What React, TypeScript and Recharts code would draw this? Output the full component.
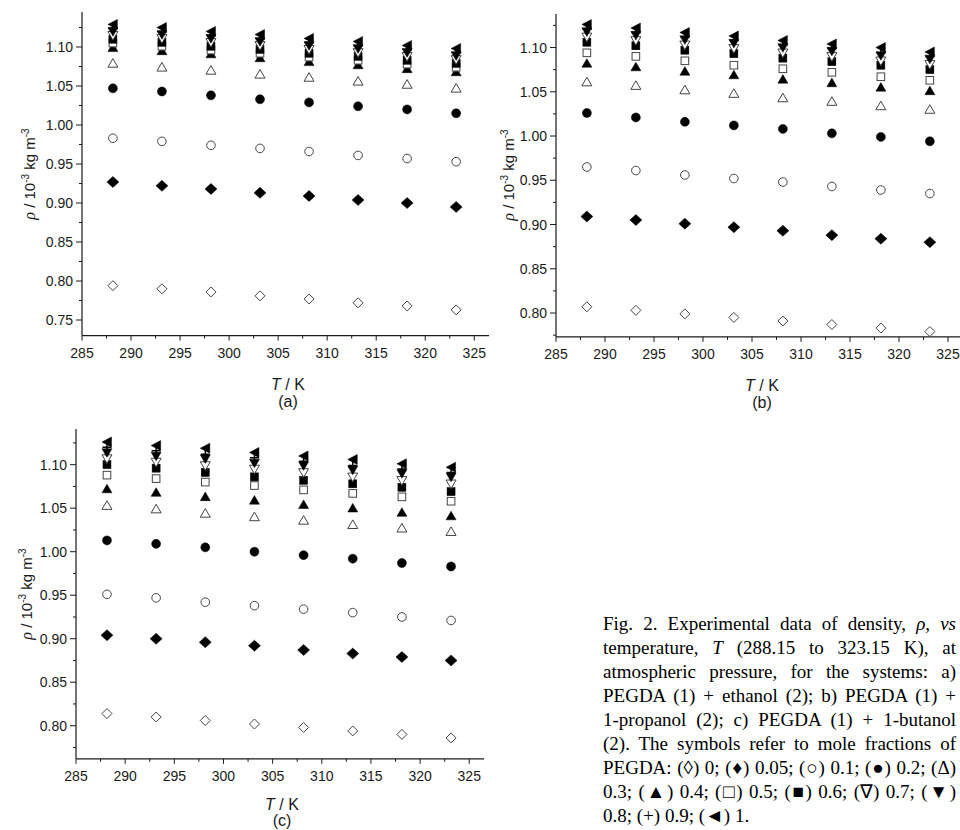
import React from "react";
import { ScatterChart, Scatter, XAxis, YAxis } from "recharts";

// temperatures (K) and PEGDA mole fractions
const temps = [288.15, 293.15, 298.15, 303.15, 308.15, 313.15, 318.15, 323.15];
const moleFractions = ["0", "0.05", "0.1", "0.2", "0.3", "0.4", "0.5", "0.6", "0.7", "0.8", "0.9", "1"];
const markerKinds = [
    "diamondOpen", "diamond", "circleOpen", "circle", "upOpen", "up",
    "squareOpen", "square", "downOpen", "down", "plus", "left",
];

// (a) PEGDA + ethanol, one row per mole fraction
const rhoEthanol = [
    [0.794, 0.790, 0.786, 0.781, 0.777, 0.772, 0.768, 0.763],
    [0.927, 0.922, 0.918, 0.913, 0.909, 0.904, 0.900, 0.895],
    [0.983, 0.979, 0.974, 0.970, 0.966, 0.961, 0.957, 0.953],
    [1.047, 1.043, 1.038, 1.033, 1.029, 1.024, 1.020, 1.015],
    [1.079, 1.074, 1.070, 1.065, 1.061, 1.056, 1.052, 1.047],
    [1.099, 1.095, 1.091, 1.086, 1.081, 1.077, 1.072, 1.068],
    [1.105, 1.101, 1.096, 1.092, 1.087, 1.083, 1.078, 1.074],
    [1.110, 1.106, 1.101, 1.097, 1.092, 1.088, 1.083, 1.079],
    [1.115, 1.111, 1.106, 1.102, 1.097, 1.093, 1.088, 1.084],
    [1.120, 1.116, 1.111, 1.107, 1.102, 1.098, 1.093, 1.089],
    [1.124, 1.120, 1.115, 1.111, 1.106, 1.102, 1.097, 1.093],
    [1.129, 1.125, 1.120, 1.116, 1.111, 1.107, 1.102, 1.098],
];

// (b) PEGDA + 1-propanol
const rhoPropanol = [
    [0.807, 0.803, 0.799, 0.795, 0.791, 0.787, 0.783, 0.779],
    [0.909, 0.905, 0.901, 0.897, 0.893, 0.888, 0.884, 0.880],
    [0.965, 0.961, 0.956, 0.952, 0.948, 0.943, 0.939, 0.935],
    [1.026, 1.021, 1.016, 1.012, 1.008, 1.003, 0.999, 0.994],
    [1.061, 1.057, 1.052, 1.048, 1.043, 1.039, 1.034, 1.030],
    [1.082, 1.078, 1.073, 1.069, 1.064, 1.060, 1.055, 1.051],
    [1.094, 1.090, 1.085, 1.080, 1.076, 1.072, 1.067, 1.063],
    [1.106, 1.102, 1.097, 1.093, 1.088, 1.084, 1.080, 1.075],
    [1.112, 1.108, 1.103, 1.099, 1.094, 1.090, 1.085, 1.081],
    [1.118, 1.114, 1.109, 1.105, 1.100, 1.096, 1.091, 1.087],
    [1.121, 1.117, 1.112, 1.108, 1.103, 1.099, 1.094, 1.090],
    [1.126, 1.122, 1.117, 1.113, 1.108, 1.104, 1.100, 1.095],
];

// (c) PEGDA + 1-butanol
const rhoButanol = [
    [0.814, 0.810, 0.806, 0.802, 0.798, 0.794, 0.790, 0.786],
    [0.904, 0.900, 0.896, 0.892, 0.887, 0.883, 0.879, 0.875],
    [0.951, 0.947, 0.942, 0.938, 0.934, 0.930, 0.925, 0.921],
    [1.013, 1.009, 1.005, 1.000, 0.996, 0.992, 0.987, 0.983],
    [1.053, 1.049, 1.044, 1.040, 1.036, 1.031, 1.027, 1.023],
    [1.072, 1.068, 1.063, 1.059, 1.054, 1.050, 1.045, 1.041],
    [1.088, 1.084, 1.080, 1.076, 1.071, 1.067, 1.063, 1.058],
    [1.100, 1.096, 1.091, 1.086, 1.082, 1.078, 1.074, 1.069],
    [1.107, 1.103, 1.099, 1.095, 1.091, 1.086, 1.082, 1.078],
    [1.114, 1.110, 1.107, 1.102, 1.099, 1.094, 1.090, 1.086],
    [1.120, 1.116, 1.112, 1.108, 1.104, 1.099, 1.095, 1.091],
    [1.126, 1.122, 1.119, 1.114, 1.110, 1.106, 1.101, 1.097],
];

const xTicks = [285, 287.5, 290, 292.5, 295, 297.5, 300, 302.5, 305, 307.5, 310, 312.5, 315, 317.5, 320, 322.5, 325];
const xLabels = [285, 290, 295, 300, 305, 310, 315, 320, 325];
const yTicksA = [0.75, 0.775, 0.8, 0.825, 0.85, 0.875, 0.9, 0.925, 0.95, 0.975, 1.0, 1.025, 1.05, 1.075, 1.1, 1.125];
const yTicksBC = [0.775, 0.8, 0.825, 0.85, 0.875, 0.9, 0.925, 0.95, 0.975, 1.0, 1.025, 1.05, 1.075, 1.1, 1.125];
const yLabels = [0.75, 0.8, 0.85, 0.9, 0.95, 1.0, 1.05, 1.1];

const INK = "#1a1a1a";
const SANS = '"Liberation Sans", Arial, sans-serif';
const SERIF = '"Liberation Serif", "Times New Roman", serif';

const isIn = (list: number[], v: number) => list.some((l) => Math.abs(l - v) < 1e-6);

const XTick = (props: any) => {
    const { x, y, payload } = props;
    const major = isIn(xLabels, payload.value);
    return (
        <g>
            <line x1={x} y1={y} x2={x} y2={y + (major ? 5 : 3)} stroke={INK} strokeWidth={1} />
            {major && (
                <text x={x} y={y + 17} textAnchor="middle" dominantBaseline="central" fontFamily={SANS} fontSize={14} fill={INK}>
                    {payload.value}
                </text>
            )}
        </g>
    );
};

const YTick = (props: any) => {
    const { x, y, payload } = props;
    const major = isIn(yLabels, payload.value);
    return (
        <g>
            <line x1={x - (major ? 6 : 3)} y1={y} x2={x} y2={y} stroke={INK} strokeWidth={1} />
            {major && (
                <text x={x - 9} y={y} textAnchor="end" dominantBaseline="central" fontFamily={SANS} fontSize={14} fill={INK}>
                    {payload.value.toFixed(2)}
                </text>
            )}
        </g>
    );
};

const Marker = ({ kind, cx, cy }: { kind: string; cx: number; cy: number }) => {
    const open = { fill: "#fff", stroke: "#444", strokeWidth: 1 };
    const full = { fill: "#000", stroke: "#000", strokeWidth: 0.5 };
    switch (kind) {
        case "diamondOpen":
            return <path d={`M${cx},${cy - 5}L${cx + 5},${cy}L${cx},${cy + 5}L${cx - 5},${cy}Z`} {...open} />;
        case "diamond":
            return <path d={`M${cx},${cy - 5.5}L${cx + 6},${cy}L${cx},${cy + 5.5}L${cx - 6},${cy}Z`} {...full} />;
        case "circleOpen":
            return <circle cx={cx} cy={cy} r={4.3} {...open} />;
        case "circle":
            return <circle cx={cx} cy={cy} r={4.5} {...full} />;
        case "upOpen":
            return <path d={`M${cx},${cy - 4.8}L${cx + 5},${cy + 3.8}L${cx - 5},${cy + 3.8}Z`} {...open} />;
        case "up":
            return <path d={`M${cx},${cy - 4.8}L${cx + 5},${cy + 3.8}L${cx - 5},${cy + 3.8}Z`} {...full} />;
        case "squareOpen":
            return <rect x={cx - 3.8} y={cy - 3.8} width={7.6} height={7.6} {...open} />;
        case "square":
            return <rect x={cx - 4} y={cy - 4} width={8} height={8} {...full} />;
        case "downOpen":
            return <path d={`M${cx},${cy + 4.8}L${cx + 5},${cy - 3.8}L${cx - 5},${cy - 3.8}Z`} {...open} />;
        case "down":
            return <path d={`M${cx},${cy + 4.8}L${cx + 5},${cy - 3.8}L${cx - 5},${cy - 3.8}Z`} {...full} />;
        case "plus":
            return (
                <path d={`M${cx - 4.5},${cy}L${cx + 4.5},${cy}M${cx},${cy - 4.5}L${cx},${cy + 4.5}`} stroke="#000" strokeWidth={1.5} fill="none" />
            );
        default:
            return <path d={`M${cx - 5},${cy}L${cx + 4.5},${cy - 5}L${cx + 4.5},${cy + 5}Z`} {...full} />;
    }
};

type PanelProps = {
    left: number;
    top: number;
    width: number;
    height: number;
    plotL: number;
    plotR: number;
    plotT: number;
    plotB: number;
    yDomain: [number, number];
    yTicks: number[];
    rho: number[][];
    tag: string;
    titleX: number;
    titleGap: number;
    tagGap: number;
};

const Panel = ({ left, top, width, height, plotL, plotR, plotT, plotB, yDomain, yTicks, rho, tag, titleX, titleGap, tagGap }: PanelProps) => {
    const series = moleFractions.map((mf, s) => ({
        mf,
        kind: markerKinds[s],
        data: temps.map((t, i) => ({ t, rho: rho[s][i] })),
    }));
    const midX = plotL + 206;
    const labelStyle: React.CSSProperties = {
        position: "absolute",
        left: midX,
        transform: "translate(-50%, -50%)",
        whiteSpace: "nowrap",
        fontFamily: SANS,
        fontSize: 16,
        lineHeight: "16px",
        color: INK,
    };
    return (
        <div style={{ position: "absolute", left, top, width, height }}>
            <ScatterChart width={width} height={height} margin={{ top: plotT, right: width - plotR, bottom: 0, left: 0 }}>
                <XAxis
                    type="number"
                    dataKey="t"
                    domain={[285, 326.5]}
                    ticks={xTicks}
                    interval={0}
                    tickSize={0}
                    tickMargin={0}
                    tickLine={false}
                    tick={(p: any) => <XTick {...p} />}
                    axisLine={{ stroke: INK, strokeWidth: 1.2 }}
                    height={height - plotB}
                    allowDataOverflow
                />
                <YAxis
                    type="number"
                    dataKey="rho"
                    domain={yDomain}
                    ticks={yTicks}
                    interval={0}
                    tickSize={0}
                    tickMargin={0}
                    tickLine={false}
                    tick={(p: any) => <YTick {...p} />}
                    axisLine={{ stroke: INK, strokeWidth: 1.2 }}
                    width={plotL}
                    allowDataOverflow
                />
                {series.map((s) => (
                    <Scatter
                        key={s.mf}
                        name={s.mf}
                        data={s.data}
                        isAnimationActive={false}
                        shape={(p: any) => <Marker kind={s.kind} cx={p.cx} cy={p.cy} />}
                    />
                ))}
            </ScatterChart>

            {/* y title */}
            <div
                style={{
                    position: "absolute",
                    left: titleX,
                    top: (plotT + plotB) / 2,
                    transform: "translate(-50%, -50%) rotate(-90deg)",
                    whiteSpace: "nowrap",
                    fontFamily: SANS,
                    fontSize: 15,
                    color: INK,
                }}
            >
                <span style={{ fontFamily: SERIF, fontStyle: "italic", fontSize: 16 }}>ρ</span> / 10
                <sup style={{ fontSize: 10 }}>-3</sup> kg m<sup style={{ fontSize: 10 }}>-3</sup>
            </div>

            {/* x title and panel tag */}
            <div style={{ ...labelStyle, top: plotB + titleGap }}>
                <i>T</i> / K
            </div>
            <div style={{ ...labelStyle, top: plotB + tagGap }}>({tag})</div>
        </div>
    );
};

const captionLines: React.ReactNode[] = [
    <>Fig. 2. Experimental data of density, <i>ρ</i>, <i>vs</i></>,
    <>temperature, <i>T</i> (288.15 to 323.15 K), at</>,
    <>atmospheric pressure, for the systems: a)</>,
    <>PEGDA (1) + ethanol (2); b) PEGDA (1) +</>,
    <>1-propanol (2); c) PEGDA (1) + 1-butanol</>,
    <>(2). The symbols refer to mole fractions of</>,
    <>PEGDA: (◊) 0; (♦) 0.05; (○) 0.1; (●) 0.2; (Δ)</>,
    <>0.3; (▲) 0.4; (□) 0.5; (■) 0.6; (∇) 0.7; (▼)</>,
    <>0.8; (+) 0.9; (◄) 1.</>,
];

export default function App() {
    return (
        <div style={{ position: "absolute", left: 0, top: 0, width: 960, height: 830, overflow: "hidden", background: "#fff" }}>
            <Panel left={0} top={0} width={500} height={410} plotL={82} plotR={489} plotT={11.9} plotB={335.6}
                yDomain={[0.73, 1.145]} yTicks={yTicksA} rho={rhoEthanol} tag="a" titleX={29} titleGap={49} tagGap={66} />
            <Panel left={480} top={0} width={495} height={410} plotL={76} plotR={482.7} plotT={13.9} plotB={336.9}
                yDomain={[0.773, 1.138]} yTicks={yTicksBC} rho={rhoPropanol} tag="b" titleX={28} titleGap={49} tagGap={66} />
            <Panel left={0} top={410} width={500} height={420} plotL={76} plotR={484} plotT={19} plotB={348.8}
                yDomain={[0.762, 1.141]} yTicks={yTicksBC} rho={rhoButanol} tag="c" titleX={26} titleGap={46} tagGap={62} />

            <div style={{ position: "absolute", left: 603, top: 612, width: 353, fontFamily: SERIF, fontSize: 19, lineHeight: "24px", color: "#000" }}>
                {captionLines.map((line, i) => (
                    <div key={i} style={{ textAlign: "justify", textAlignLast: i < captionLines.length - 1 ? "justify" : "left", height: 24 }}>
                        {line}
                    </div>
                ))}
            </div>
        </div>
    );
}
